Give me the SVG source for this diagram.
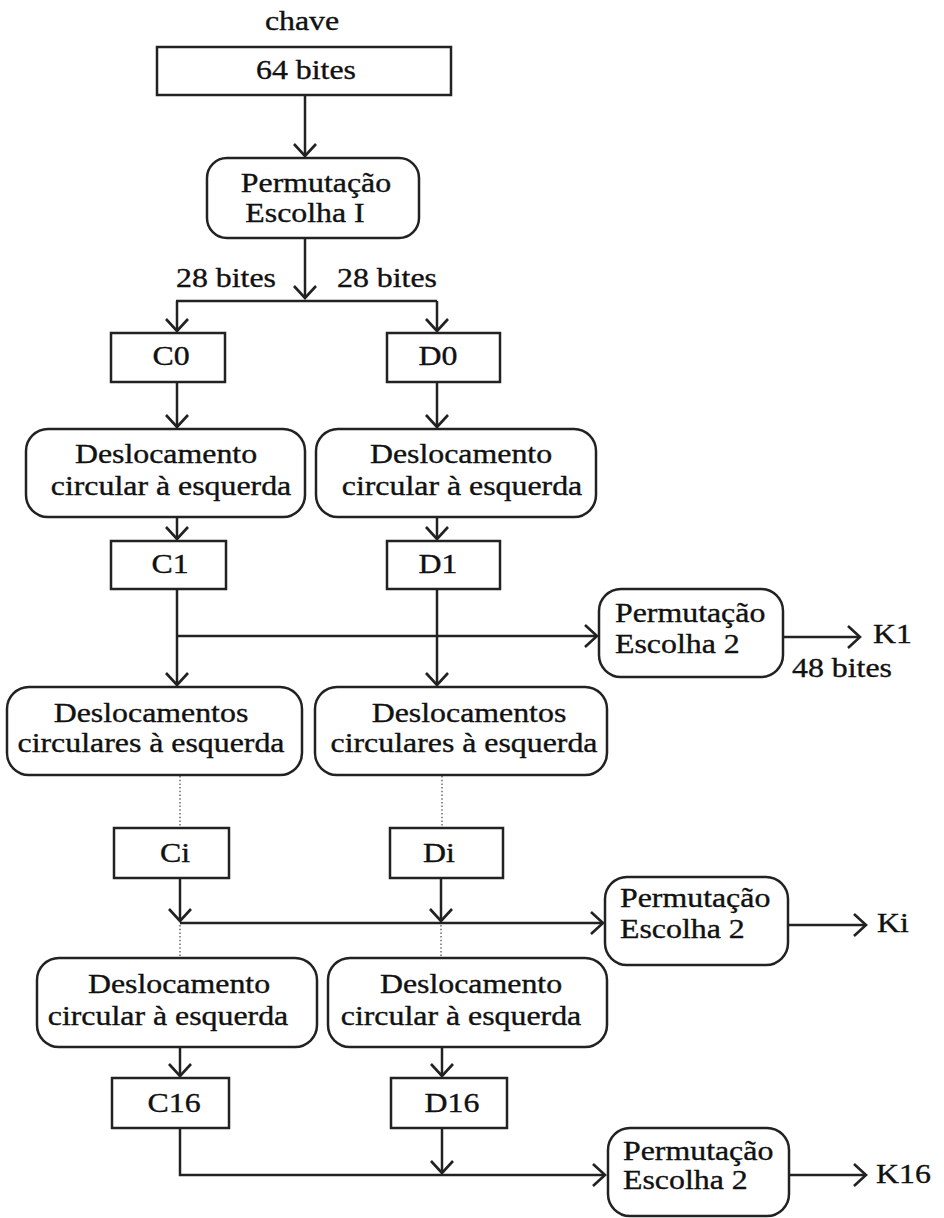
<svg xmlns="http://www.w3.org/2000/svg" width="944" height="1218" viewBox="0 0 944 1218">
<style>
.bx{fill:#fff;stroke:#222;stroke-width:2.5}
.t{font-family:"Liberation Serif","Times New Roman",serif;font-size:27px;fill:#111;stroke:#111;stroke-width:0.35}
.m{text-anchor:middle}
.s{text-anchor:start}
.ln{fill:none;stroke:#222;stroke-width:2.5}
.dt{fill:none;stroke:#555;stroke-width:1.3;stroke-dasharray:1.5 2.2}
</style>
<defs>
<marker id="arr" viewBox="-15 -15 30 30" markerWidth="30" markerHeight="30" refX="0" refY="0" orient="auto" markerUnits="userSpaceOnUse" overflow="visible">
<path d="M-12,-11 L0,0 L-12,11" fill="none" stroke="#222" stroke-width="2.6" stroke-linejoin="miter"/>
</marker>
</defs>
<rect width="944" height="1218" fill="#fff"/>

<g id="connectors">
<line class="ln" x1="305" y1="95" x2="305" y2="156" marker-end="url(#arr)"/>
<line class="ln" x1="305" y1="238" x2="305" y2="298" marker-end="url(#arr)"/>
<line class="ln" x1="176" y1="301" x2="437" y2="301"/>
<line class="ln" x1="177" y1="301" x2="177" y2="331" marker-end="url(#arr)"/>
<line class="ln" x1="437" y1="301" x2="437" y2="331" marker-end="url(#arr)"/>
<line class="ln" x1="177" y1="382" x2="177" y2="427" marker-end="url(#arr)"/>
<line class="ln" x1="437" y1="382" x2="437" y2="427" marker-end="url(#arr)"/>
<line class="ln" x1="177" y1="517" x2="177" y2="539" marker-end="url(#arr)"/>
<line class="ln" x1="437" y1="517" x2="437" y2="539" marker-end="url(#arr)"/>
<line class="ln" x1="177" y1="589" x2="177" y2="685" marker-end="url(#arr)"/>
<line class="ln" x1="437" y1="589" x2="437" y2="685" marker-end="url(#arr)"/>
<line class="ln" x1="177" y1="636" x2="597" y2="636" marker-end="url(#arr)"/>
<line class="ln" x1="783" y1="637" x2="860" y2="637" marker-end="url(#arr)"/>
<line class="dt" x1="180" y1="776" x2="180" y2="828"/>
<line class="dt" x1="442" y1="776" x2="442" y2="828"/>
<line class="ln" x1="180" y1="878" x2="180" y2="921" marker-end="url(#arr)"/>
<line class="ln" x1="441" y1="878" x2="441" y2="921" marker-end="url(#arr)"/>
<line class="ln" x1="180" y1="923" x2="603" y2="923" marker-end="url(#arr)"/>
<line class="ln" x1="788" y1="925" x2="866" y2="925" marker-end="url(#arr)"/>
<line class="dt" x1="180" y1="925" x2="180" y2="958"/>
<line class="dt" x1="441" y1="925" x2="441" y2="958"/>
<line class="ln" x1="180" y1="1047" x2="180" y2="1076" marker-end="url(#arr)"/>
<line class="ln" x1="442" y1="1047" x2="442" y2="1076" marker-end="url(#arr)"/>
<polyline class="ln" points="180,1128 180,1175 605,1175" marker-end="url(#arr)"/>
<line class="ln" x1="442" y1="1128" x2="442" y2="1173" marker-end="url(#arr)"/>
<line class="ln" x1="789" y1="1175" x2="866" y2="1175" marker-end="url(#arr)"/>
</g>

<g id="chave">
<text class="t m" transform="translate(302,30) scale(1.18,1)">chave</text>
<rect class="bx" x="157" y="47" width="294" height="48"/>
<text class="t m" transform="translate(306,79) scale(1.18,1)">64 bites</text>
</g>

<g id="pc1">
<rect class="bx" x="207" y="158" width="212" height="80" rx="20"/>
<text class="t m" transform="translate(316,192) scale(1.18,1)">Permutação</text>
<text class="t m" transform="translate(305,222) scale(1.18,1)">Escolha I</text>
</g>

<g id="labels28">
<text class="t m" transform="translate(226,287) scale(1.18,1)">28 bites</text>
<text class="t m" transform="translate(387,287) scale(1.18,1)">28 bites</text>
</g>

<g id="c0">
<rect class="bx" x="111" y="333" width="114" height="49"/>
<text class="t m" transform="translate(171,365) scale(1.18,1)">C0</text>
</g>
<g id="d0">
<rect class="bx" x="387" y="333" width="113" height="49"/>
<text class="t m" transform="translate(438,365) scale(1.18,1)">D0</text>
</g>

<g id="shiftC1">
<rect class="bx" x="26" y="429" width="279" height="88" rx="22"/>
<text class="t m" transform="translate(166,463) scale(1.18,1)">Deslocamento</text>
<text class="t m" transform="translate(171,495) scale(1.18,1)">circular à esquerda</text>
</g>
<g id="shiftD1">
<rect class="bx" x="316" y="429" width="280" height="88" rx="22"/>
<text class="t m" transform="translate(461,463) scale(1.18,1)">Deslocamento</text>
<text class="t m" transform="translate(462,495) scale(1.18,1)">circular à esquerda</text>
</g>

<g id="c1">
<rect class="bx" x="111" y="541" width="115" height="48"/>
<text class="t m" transform="translate(170,573) scale(1.18,1)">C1</text>
</g>
<g id="d1">
<rect class="bx" x="387" y="541" width="113" height="48"/>
<text class="t m" transform="translate(438,573) scale(1.18,1)">D1</text>
</g>

<g id="pe2k1">
<rect class="bx" x="599" y="589" width="184" height="88" rx="22"/>
<text class="t s" transform="translate(615,622) scale(1.18,1)">Permutação</text>
<text class="t s" transform="translate(615,653) scale(1.18,1)">Escolha 2</text>
</g>
<g id="k1">
<text class="t s" transform="translate(873,643) scale(1.18,1)">K1</text>
<text class="t s" transform="translate(792,677) scale(1.18,1)">48 bites</text>
</g>

<g id="shiftsC">
<rect class="bx" x="7" y="687" width="295" height="88" rx="22"/>
<text class="t m" transform="translate(151,722) scale(1.18,1)">Deslocamentos</text>
<text class="t m" transform="translate(151,752) scale(1.18,1)">circulares à esquerda</text>
</g>
<g id="shiftsD">
<rect class="bx" x="315" y="687" width="292" height="88" rx="22"/>
<text class="t m" transform="translate(469,722) scale(1.18,1)">Deslocamentos</text>
<text class="t m" transform="translate(464,752) scale(1.18,1)">circulares à esquerda</text>
</g>

<g id="ci">
<rect class="bx" x="114" y="828" width="115" height="50"/>
<text class="t m" transform="translate(175,862) scale(1.18,1)">Ci</text>
</g>
<g id="di">
<rect class="bx" x="390" y="828" width="113" height="50"/>
<text class="t m" transform="translate(439,862) scale(1.18,1)">Di</text>
</g>

<g id="pe2ki">
<rect class="bx" x="605" y="877" width="183" height="88" rx="22"/>
<text class="t s" transform="translate(620,907) scale(1.18,1)">Permutação</text>
<text class="t s" transform="translate(620,938) scale(1.18,1)">Escolha 2</text>
</g>
<g id="ki">
<text class="t s" transform="translate(877,932) scale(1.18,1)">Ki</text>
</g>

<g id="shiftC16">
<rect class="bx" x="37" y="958" width="280" height="89" rx="22"/>
<text class="t m" transform="translate(179,993) scale(1.18,1)">Deslocamento</text>
<text class="t m" transform="translate(168,1025) scale(1.18,1)">circular à esquerda</text>
</g>
<g id="shiftD16">
<rect class="bx" x="328" y="958" width="279" height="89" rx="22"/>
<text class="t m" transform="translate(471,993) scale(1.18,1)">Deslocamento</text>
<text class="t m" transform="translate(461,1025) scale(1.18,1)">circular à esquerda</text>
</g>

<g id="c16">
<rect class="bx" x="112" y="1078" width="117" height="50"/>
<text class="t m" transform="translate(174,1112) scale(1.18,1)">C16</text>
</g>
<g id="d16">
<rect class="bx" x="391" y="1078" width="116" height="50"/>
<text class="t m" transform="translate(452,1112) scale(1.18,1)">D16</text>
</g>

<g id="pe2k16">
<rect class="bx" x="608" y="1128" width="181" height="88" rx="22"/>
<text class="t s" transform="translate(623,1160) scale(1.18,1)">Permutação</text>
<text class="t s" transform="translate(623,1189) scale(1.18,1)">Escolha 2</text>
</g>
<g id="k16">
<text class="t s" transform="translate(876,1183) scale(1.18,1)">K16</text>
</g>
</svg>
